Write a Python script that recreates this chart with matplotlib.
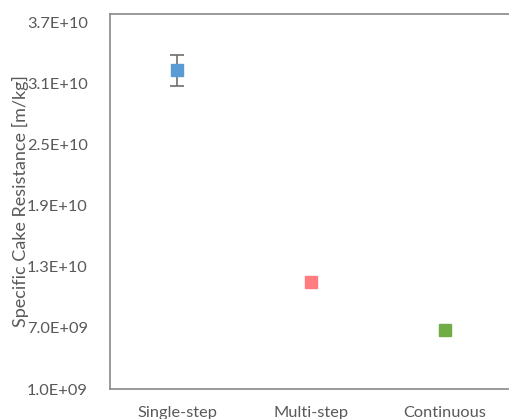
import matplotlib.pyplot as plt

# Specific cake resistance per filtration mode
categories = ['Single-step', 'Multi-step', 'Continuous']
resistance = [3.23e10, 1.15e10, 6.8e9]
resistance_err = [1.5e9, 0, 0]
colors = ['#5B9BD5', '#FF7C80', '#70AD47']
yticks = [1.0e9, 7.0e9, 1.3e10, 1.9e10, 2.5e10, 3.1e10, 3.7e10]
ytick_labels = ['1.0E+09', '7.0E+09', '1.3E+10', '1.9E+10', '2.5E+10', '3.1E+10', '3.7E+10']

text_color = '#595959'
spine_color = '#898989'
plt.rcParams['font.family'] = ['Lato', 'DejaVu Sans']

fig = plt.figure(figsize=(5.10, 4.19), dpi=100)
ax = fig.add_axes([110 / 510, 30 / 419, 402 / 510, 375 / 419])

for i, (val, err, c) in enumerate(zip(resistance, resistance_err, colors)):
    if err:
        ax.errorbar(i, val, yerr=err, fmt='none', ecolor='#6E6E6E',
                    elinewidth=1.2, capsize=5, capthick=1.2, zorder=2)
    ax.plot(i, val, marker='s', markersize=9, color=c, linestyle='none', zorder=3)

ax.set_xlim(-0.5, 2.5)
ax.set_ylim(1.0e9, 3.785e10)
ax.set_yticks(yticks)
ax.set_yticklabels(ytick_labels)
ax.set_xticks(range(len(categories)))
ax.set_xticklabels(categories)
ax.tick_params(axis='both', length=0, labelsize=11.8, colors=text_color)
ax.tick_params(axis='y', pad=16)
ax.tick_params(axis='x', pad=12)
ax.set_ylabel('Specific Cake Resistance [m/kg]', fontsize=13, color=text_color, labelpad=-1.5)

for side in ['left', 'top', 'bottom', 'right']:
    ax.spines[side].set_color(spine_color)
    ax.spines[side].set_linewidth(1.2)

fig.savefig('out.png', dpi=100)
